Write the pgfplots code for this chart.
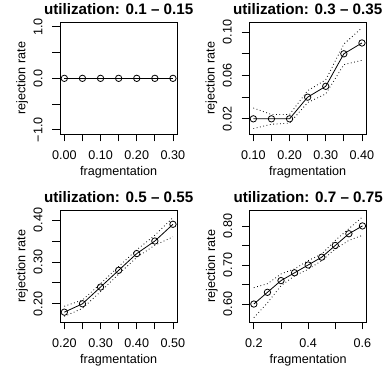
\documentclass[border=0pt]{standalone}
\usepackage{fontspec}
\setmainfont{Liberation Sans}
\usepackage{pgfplots}
\pgfplotsset{compat=1.18}
\newcommand{\axfont}{\fontsize{12.6}{15}\selectfont}
\newcommand{\tifont}{\bfseries\fontsize{15.2}{18}\selectfont}
\pgfplotsset{
  every axis title shift=0pt,
  rpanel/.style={
    scale only axis, width=117.3pt, height=111.3pt,
    anchor=south west,
    axis line style={line width=0.8pt},
    tick align=outside, major tick length=7.5pt,
    tick style={line width=0.8pt, black},
    xtick pos=left, ytick pos=left,
    /pgf/number format/assume math mode=true,
    xticklabel style={anchor=base, inner sep=0pt, font=\axfont},
    yticklabel style={rotate=90, anchor=base, inner sep=0pt, font=\axfont},
    xticklabel shift=18pt,
    yticklabel shift=10pt,
    xlabel={fragmentation}, ylabel={rejection rate},
    xlabel style={at={(axis description cs:0.5,0)}, anchor=base, inner sep=0pt, font=\axfont, yshift=-42pt},
    ylabel style={at={([xshift=-34.5pt]axis description cs:0,0.5)}, anchor=base, inner sep=0pt, font=\axfont},
    title style={at={(axis description cs:0.5,1)}, anchor=base, inner sep=0pt, font=\tifont, yshift=8.5pt},
  },
  main/.style={black, line width=0.8pt, mark=o, mark size=3.2pt, mark options={solid, line width=0.8pt}},
  ci/.style={black, line width=0.8pt, dash pattern=on 0.8pt off 2.6pt},
}
\begin{document}
\begin{tikzpicture}[x=1pt,y=1pt]
\path[use as bounding box] (0,0) rectangle (388,377);

% Panel 1
\begin{axis}[rpanel, at={(60pt,243pt)},
  title={utilization: 0.1 – 0.15},
  xmin=-0.012, xmax=0.312, ymin=-1.08, ymax=1.08,
  xtick={0,0.05,0.10,0.15,0.20,0.25,0.30},
  xticklabels={0.00,,0.10,,0.20,,0.30},
  ytick={-1,-0.5,0,0.5,1},
  yticklabels={−1.0,,0.0,,1.0}]
\addplot[main] coordinates {(0,0) (0.05,0) (0.10,0) (0.15,0) (0.20,0) (0.25,0) (0.30,0)};
\end{axis}

% Panel 2
\begin{axis}[rpanel, at={(249pt,243pt)},
  title={utilization: 0.3 – 0.35},
  xmin=0.088, xmax=0.412, ymin=0.006, ymax=0.1087,
  xtick={0.10,0.15,0.20,0.25,0.30,0.35,0.40},
  xticklabels={0.10,,0.20,,0.30,,0.40},
  ytick={0.02,0.04,0.06,0.08,0.10},
  yticklabels={0.02,,0.06,,0.10}]
\addplot[ci] coordinates {(0.10,0.030) (0.15,0.024) (0.20,0.024) (0.25,0.046) (0.30,0.056) (0.35,0.089) (0.40,0.104)};
\addplot[ci] coordinates {(0.10,0.011) (0.15,0.015) (0.20,0.016) (0.25,0.035) (0.30,0.043) (0.35,0.070) (0.40,0.074)};
\addplot[main] coordinates {(0.10,0.02) (0.15,0.02) (0.20,0.02) (0.25,0.04) (0.30,0.05) (0.35,0.08) (0.40,0.09)};
\end{axis}

% Panel 3
\begin{axis}[rpanel, at={(60pt,55pt)},
  title={utilization: 0.5 – 0.55},
  xmin=0.188, xmax=0.512, ymin=0.1565, ymax=0.4225,
  xtick={0.20,0.25,0.30,0.35,0.40,0.45,0.50},
  xticklabels={0.20,,0.30,,0.40,,0.50},
  ytick={0.20,0.25,0.30,0.35,0.40},
  yticklabels={0.20,,0.30,,0.40}]
\addplot[ci] coordinates {(0.20,0.194) (0.25,0.209) (0.30,0.248) (0.35,0.289) (0.40,0.329) (0.45,0.364) (0.50,0.406)};
\addplot[ci] coordinates {(0.20,0.170) (0.25,0.189) (0.30,0.229) (0.35,0.271) (0.40,0.311) (0.45,0.340) (0.50,0.360)};
\addplot[main] coordinates {(0.20,0.18) (0.25,0.20) (0.30,0.24) (0.35,0.28) (0.40,0.32) (0.45,0.35) (0.50,0.39)};
\end{axis}

% Panel 4
\begin{axis}[rpanel, at={(249.5pt,55pt)},
  title={utilization: 0.7 – 0.75},
  xmin=0.184, xmax=0.616, ymin=0.554, ymax=0.839,
  xtick={0.2,0.3,0.4,0.5,0.6},
  xticklabels={0.2,,0.4,,0.6},
  ytick={0.60,0.65,0.70,0.75,0.80},
  yticklabels={0.60,,0.70,,0.80}]
\addplot[ci] coordinates {(0.20,0.642) (0.25,0.652) (0.30,0.677) (0.35,0.690) (0.40,0.711) (0.45,0.728) (0.50,0.763) (0.55,0.793) (0.60,0.823)};
\addplot[ci] coordinates {(0.20,0.565) (0.25,0.603) (0.30,0.647) (0.35,0.672) (0.40,0.689) (0.45,0.711) (0.50,0.741) (0.55,0.763) (0.60,0.776)};
\addplot[main] coordinates {(0.20,0.60) (0.25,0.63) (0.30,0.66) (0.35,0.68) (0.40,0.70) (0.45,0.72) (0.50,0.75) (0.55,0.78) (0.60,0.80)};
\end{axis}
\end{tikzpicture}
\end{document}
